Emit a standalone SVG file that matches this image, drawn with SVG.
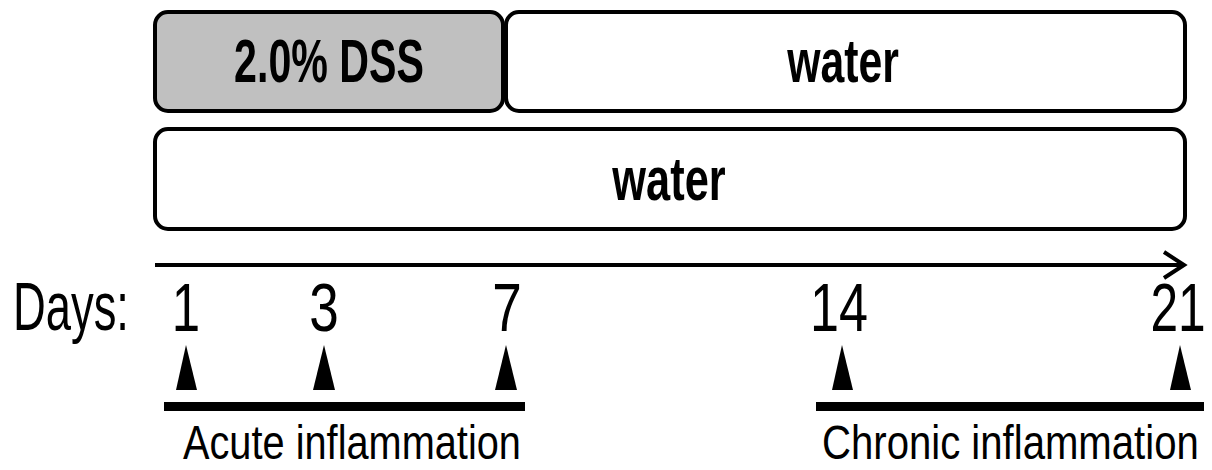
<svg xmlns="http://www.w3.org/2000/svg" width="1212" height="470" viewBox="0 0 1212 470">
<style>
.box{stroke:#000;stroke-width:4;}
.bt{font-family:"Liberation Sans",Arial,sans-serif;font-weight:bold;font-size:62px;fill:#000;text-anchor:middle;}
.t{font-family:"Liberation Sans",Arial,sans-serif;font-size:68px;fill:#000;}
.d{text-anchor:middle;}
.s{font-family:"Liberation Sans",Arial,sans-serif;font-size:49px;fill:#000;}
.tri{fill:#000;}
.bar{stroke:#000;stroke-width:9;}
</style>
<rect width="1212" height="470" fill="#fff"/>
<g id="dss">
<rect class="box" x="155" y="12" width="348" height="99" rx="13" fill="#c0c0c0"/>
<text class="bt" transform="translate(329,82) scale(0.664,1)">2.0% DSS</text>
</g>
<g id="water-top">
<rect class="box" x="506" y="12" width="679" height="99" rx="13" fill="#fff"/>
<text class="bt" transform="translate(843,82) scale(0.69,1)">water</text>
</g>
<g id="water-bottom">
<rect class="box" x="155" y="129" width="1030" height="100" rx="13" fill="#fff"/>
<text class="bt" transform="translate(669,200) scale(0.7,1)">water</text>
</g>
<g id="connectors">
<line x1="155" y1="265" x2="1182" y2="265" stroke="#000" stroke-width="4"/>
<polyline points="1164,252 1184,265 1164,278" fill="none" stroke="#000" stroke-width="4"/>
</g>
<g id="days">
<text class="t" transform="translate(13,330) scale(0.667,1)">Days:</text>
<text class="t d" transform="translate(186,331) scale(0.75,1)">1</text>
<text class="t d" transform="translate(324,331) scale(0.78,1)">3</text>
<text class="t d" transform="translate(507,331) scale(0.78,1)">7</text>
<text class="t d" transform="translate(839,331) scale(0.767,1)">14</text>
<text class="t d" transform="translate(1178,331) scale(0.73,1)">21</text>
</g>
<g id="markers">
<polygon class="tri" points="186,345 176,390 197,390"/>
<polygon class="tri" points="324,345 313,390 335,390"/>
<polygon class="tri" points="506,345 495,390 517,390"/>
<polygon class="tri" points="842,345 832,390 853,390"/>
<polygon class="tri" points="1180,345 1170,390 1191,390"/>
</g>
<g id="acute">
<line class="bar" x1="164" y1="406.5" x2="525" y2="406.5"/>
<text class="s" transform="translate(183,459) scale(0.811,1)">Acute inflammation</text>
</g>
<g id="chronic">
<line class="bar" x1="816" y1="406.5" x2="1204" y2="406.5"/>
<text class="s" transform="translate(822,459) scale(0.819,1)">Chronic inflammation</text>
</g>
</svg>
